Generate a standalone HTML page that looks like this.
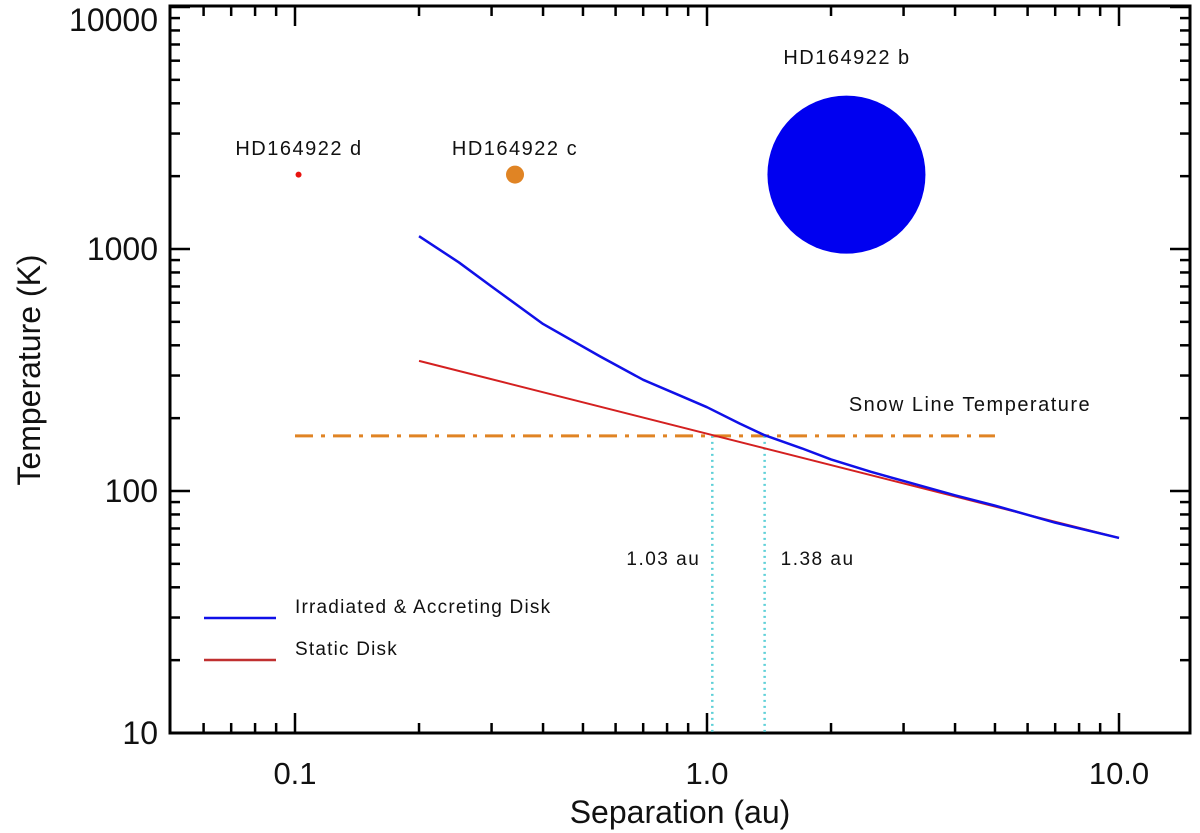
<!DOCTYPE html>
<html><head><meta charset="utf-8"><style>
body{margin:0;background:#fff;}
svg{display:block;font-family:"Liberation Sans",sans-serif;}
</style></head><body>
<svg id="chart" width="1200" height="833"></svg>
<script>
const xTickVals=[0.1,1.0,10.0];
const xTickLabels=["0.1","1.0","10.0"];
const yTickVals=[10,100,1000,10000];
const yTickLabels=["10","100","1000","10000"];
const blueX=[0.2,0.25,0.3,0.4,0.55,0.7,0.85,1.0,1.2,1.38,1.7,2,2.5,3,4,5,7,10];
const blueT=[1130,880,700,490,360,288,250,222,190,170,150,135,120,110,96,87,74,64];
const redX=[0.2,10];
const redT=[345,64];
const snowT=[169];
const snowRange=[0.1,5.0];
const markX=[1.03,1.38];
const markLabels=["1.03 au","1.38 au"];
const planetNames=["HD164922 d","HD164922 c","HD164922 b"];
const planetX=[0.102,0.342,2.18];
const planetT=[2030,2030,2030];
const planetColors=["#e8130f","#e08424","#0000f0"];
const planetR=[3,9,79];

const L=170,R=1190,T=6,B=733;
const sx=v=>295+412*Math.log10(v/0.1);
const sy=v=>733-242*Math.log10(v/10);
const svg=document.getElementById('chart');
const NS="http://www.w3.org/2000/svg";
function mk(tag,attrs,parent){const e=document.createElementNS(NS,tag);for(const k in attrs)e.setAttribute(k,attrs[k]);(parent||svg).appendChild(e);return e;}

const fr=mk('rect',{x:L,y:T,width:R-L,height:B-T,fill:'none',stroke:'#000','stroke-width':3});



for(let d=-2;d<=1;d++){for(let m=1;m<=9;m++){const v=m*Math.pow(10,d);const x=sx(v);if(x<L+2||x>R-2)continue;const len=m===1?20:10;
const t1=mk('line',{x1:x,x2:x,y1:B,y2:B-len,stroke:'#000','stroke-width':2.5});


const t2=mk('line',{x1:x,x2:x,y1:T,y2:T+len,stroke:'#000','stroke-width':2.5});

}}
for(let d=1;d<=4;d++){for(let m=1;m<=9;m++){const v=m*Math.pow(10,d);const y=sy(v);if(y<T+1||y>B)continue;const len=m===1?20:10;
const t1=mk('line',{x1:L,x2:L+len,y1:y,y2:y,stroke:'#000','stroke-width':2.5});


const t2=mk('line',{x1:R,x2:R-len,y1:y,y2:y,stroke:'#000','stroke-width':2.5});

}}

xTickVals.forEach((v,i)=>{const t=mk('text',{x:sx(v),y:784,'text-anchor':'middle','font-size':31,fill:'#111'});t.textContent=xTickLabels[i];

});
yTickVals.forEach((v,i)=>{const t=mk('text',{x:158,y:Math.max(sy(v),20)+11,'text-anchor':'end','font-size':32,fill:'#111'});t.textContent=yTickLabels[i];

});

const xt=mk('text',{x:680,y:823,'text-anchor':'middle','font-size':32,fill:'#111'});xt.textContent="Separation (au)";


const yt=mk('text',{x:0,y:0,'text-anchor':'middle','font-size':32,fill:'#111',transform:'translate(40,370) rotate(-90)'});yt.textContent="Temperature (K)";



const sl=mk('line',{x1:sx(snowRange[0]),x2:sx(snowRange[1]),y1:sy(snowT[0]),y2:sy(snowT[0]),stroke:'#e08424','stroke-width':3,'stroke-dasharray':'18,8,4,8'});


const slt=mk('text',{x:970,y:411,'text-anchor':'middle','font-size':20,fill:'#111','letter-spacing':'1.5'});slt.textContent="Snow Line Temperature";



markX.forEach((v,i)=>{const l=mk('line',{x1:sx(v),x2:sx(v),y1:sy(snowT[0]),y2:B,stroke:'#5fd0d8','stroke-width':2.5,'stroke-dasharray':'2,4'});


const t=mk('text',{x:i===0?sx(v)-12:sx(v)+16,y:565,'text-anchor':i===0?'end':'start','font-size':19,fill:'#111','letter-spacing':'1.5'});t.textContent=markLabels[i];

});

const redP=mk('polyline',{points:redX.map((v,i)=>sx(v)+','+sy(redT[i])).join(' '),fill:'none',stroke:'#d42020','stroke-width':2});


const blueP=mk('polyline',{points:blueX.map((v,i)=>sx(v)+','+sy(blueT[i])).join(' '),fill:'none',stroke:'#1010e8','stroke-width':2.5,'stroke-linejoin':'round'});



planetX.forEach((v,i)=>{const c=mk('circle',{cx:sx(v),cy:sy(planetT[i]),r:planetR[i],fill:planetColors[i]});

});
[[299,148],[515,148],[847,57]].forEach((p,i)=>{const t=mk('text',{x:p[0],y:p[1]+7,'text-anchor':'middle','font-size':20,fill:'#111','letter-spacing':'1.5'});t.textContent=planetNames[i];

});

[['#1010e8','Irradiated & Accreting Disk',618],['#c03030','Static Disk',660]].forEach(e=>{
const l=mk('line',{x1:204,x2:276,y1:e[2],y2:e[2],stroke:e[0],'stroke-width':2.5});


const t=mk('text',{x:295,y:e[2]-5,'font-size':19,fill:'#111','letter-spacing':'1.2'});t.textContent=e[1];

});
</script>
</body></html>
